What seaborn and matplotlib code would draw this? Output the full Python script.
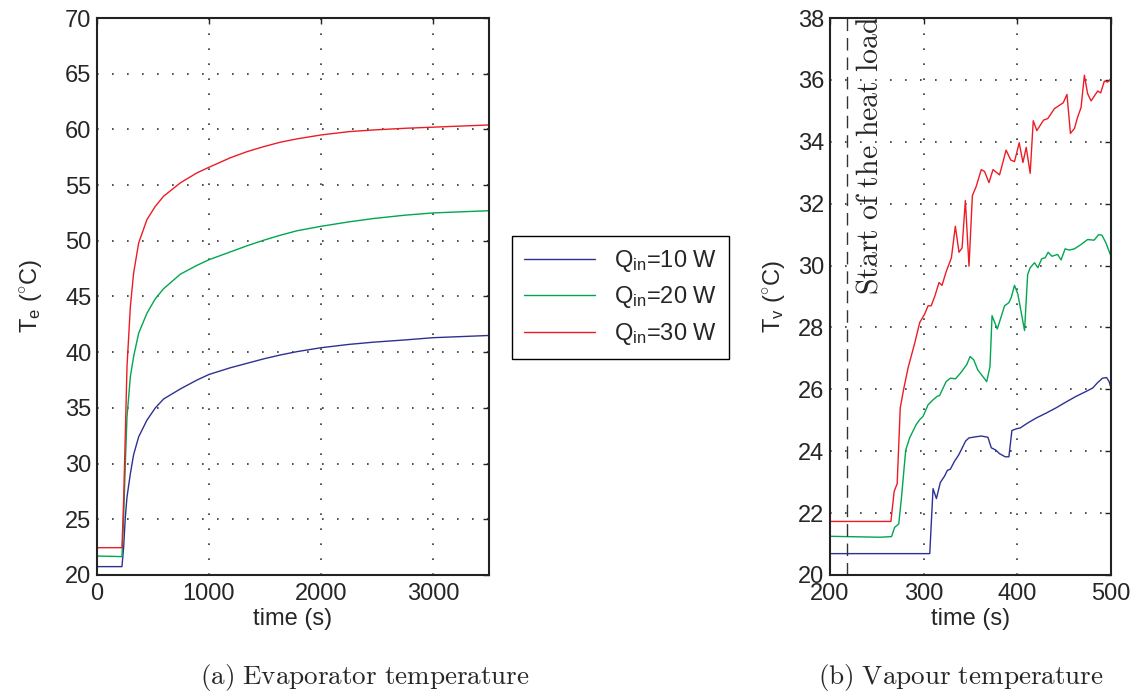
import numpy as np
import pandas as pd
import seaborn as sns
import matplotlib
matplotlib.use('Agg')
import matplotlib.pyplot as plt

# Evaporator temperature, (a)
t_e = [0, 223, 238, 253, 268, 298, 327, 372, 446, 521, 595, 744, 893, 1000, 1190, 1339,
       1488, 1637, 1786, 2000, 2250, 2470, 2750, 3000, 3250, 3500]
T_e10 = [20.75, 20.75, 22.5, 25.2, 27.0, 29.1, 30.8, 32.4, 33.9, 35.0, 35.8, 36.7, 37.5, 38.0,
         38.6, 39.0, 39.4, 39.75, 40.05, 40.4, 40.7, 40.9, 41.1, 41.3, 41.4, 41.5]
T_e20 = [21.7, 21.65, 25.2, 30.0, 34.2, 37.8, 39.6, 41.7, 43.5, 44.8, 45.7, 47.0, 47.8, 48.3,
         49.0, 49.55, 50.05, 50.5, 50.9, 51.3, 51.7, 52.0, 52.3, 52.5, 52.6, 52.7]
T_e30 = [22.45, 22.45, 26.7, 32.7, 38.7, 44.1, 47.1, 49.8, 51.9, 53.1, 54.0, 55.2, 56.1, 56.6,
         57.45, 58.0, 58.45, 58.85, 59.15, 59.5, 59.8, 59.95, 60.1, 60.2, 60.3, 60.4]

# Vapour temperature, (b)
t_v10 = [200, 253, 306.5, 310, 313.6, 317.8, 322.4, 325.3, 328.5, 333, 337.4, 341.2, 344.8, 348.4,
         354.4, 361.5, 368.6, 372.2, 376.8, 381, 387, 391, 394.2, 399.6, 403, 411, 420, 430.7,
         441.3, 452, 462.6, 473.3, 480.4, 485.8, 491, 495.3, 498, 500]
T_v10 = [20.69, 20.69, 20.69, 22.79, 22.47, 22.99, 23.2, 23.38, 23.42, 23.68, 23.88, 24.11, 24.33,
         24.43, 24.46, 24.49, 24.45, 24.11, 24.04, 23.92, 23.82, 23.82, 24.67, 24.73, 24.75, 24.91,
         25.07, 25.23, 25.4, 25.59, 25.77, 25.93, 26.04, 26.22, 26.36, 26.38, 26.25, 26.04]
t_v20 = [200, 253, 265.7, 269, 273.4, 276.3, 280.8, 285, 292, 295.8, 299.4, 304.7, 310, 314.3, 317,
         324, 328.5, 334, 340, 346, 349.6, 353.5, 357.7, 367.3, 370.8, 373, 378.6, 386.4, 391,
         393.5, 397, 400.6, 407.7, 411, 413.7, 418.3, 422, 426, 429.7, 432.9, 437, 443, 446.7,
         451, 455.5, 461, 468, 475, 482, 486.8, 490.4, 494.6, 500]
T_v20 = [21.25, 21.22, 21.24, 21.54, 21.65, 22.5, 24.03, 24.43, 24.86, 25.02, 25.13, 25.5, 25.66,
         25.77, 25.8, 26.25, 26.36, 26.34, 26.55, 26.8, 27.06, 26.95, 26.63, 26.25, 26.73, 28.38,
         27.95, 28.7, 28.8, 28.97, 29.36, 29.07, 27.9, 29.7, 29.93, 30.09, 29.93, 30.22, 30.25,
         30.43, 30.3, 30.36, 30.18, 30.54, 30.5, 30.54, 30.68, 30.84, 30.82, 31.0, 30.98, 30.73, 30.3]
t_v30 = [200, 265, 268.5, 271.7, 275, 278.6, 283.4, 290.5, 295.8, 301, 304.7, 308, 311.8, 316.4,
         319.6, 324, 329.6, 333.8, 337.7, 341, 344.5, 348.4, 352, 356, 361.5, 365, 369.7, 374, 381,
         388, 393, 397, 402, 406, 409.5, 413.7, 417, 420.8, 428, 432.5, 439.6, 449, 453, 456.7,
         461, 464.4, 468, 471.6, 475, 478.7, 485.8, 489, 492.9, 496.4, 500]
T_v30 = [21.73, 21.73, 22.7, 22.95, 25.4, 26.0, 26.7, 27.5, 28.16, 28.43, 28.7, 28.7, 29.0, 29.45,
         29.36, 29.8, 30.25, 31.27, 30.43, 30.57, 32.1, 29.98, 32.26, 32.55, 33.1, 33.04, 32.68,
         33.1, 32.93, 33.73, 33.41, 33.36, 33.97, 33.33, 33.82, 32.98, 34.68, 34.36, 34.7, 34.75,
         35.07, 35.26, 35.53, 34.27, 34.43, 34.8, 35.1, 36.15, 35.56, 35.32, 35.64, 35.58, 35.96,
         35.93, 36.04]

loads = ['10 W', '20 W', '30 W']
legend_labels = [r'Q$_{\rm in}$=10 W', r'Q$_{\rm in}$=20 W', r'Q$_{\rm in}$=30 W']
colors = ['#2e3192', '#00a650', '#ed1c24']
heat_start = 218

sns.set_style('white')
plt.rcParams['font.family'] = ['Liberation Sans', 'DejaVu Sans']
plt.rcParams['mathtext.fontset'] = 'custom'
plt.rcParams['mathtext.rm'] = 'Liberation Sans'
plt.rcParams['mathtext.it'] = 'Liberation Sans:italic'
plt.rcParams['mathtext.bf'] = 'Liberation Sans:bold'
plt.rcParams['font.size'] = 17

# long-form frames
df_e = pd.concat([pd.DataFrame({'time': t_e, 'T': v, 'Q': q})
                  for v, q in zip([T_e10, T_e20, T_e30], loads)], ignore_index=True)
df_v = pd.concat([pd.DataFrame({'time': t, 'T': v, 'Q': q})
                  for t, v, q in zip([t_v10, t_v20, t_v30], [T_v10, T_v20, T_v30], loads)],
                 ignore_index=True)

fig = plt.figure(figsize=(11.45, 6.95), dpi=100)
ax1 = fig.add_axes([0.0847, 0.1727, 0.3424, 0.8014])
ax2 = fig.add_axes([0.7249, 0.1727, 0.2454, 0.8014])

palette = dict(zip(loads, colors))
sns.lineplot(data=df_e, x='time', y='T', hue='Q', palette=palette, estimator=None,
             linewidth=1.0, legend=False, ax=ax1)
sns.lineplot(data=df_v, x='time', y='T', hue='Q', palette=palette, estimator=None,
             linewidth=1.0, legend=False, ax=ax2)

ax2.axvline(heat_start, color='#333333', linewidth=1.0, dashes=(9, 5))
ax2.text(242.5, 33.57, r'$\mathrm{Start\ of\ the\ heat\ load}$', rotation=90, ha='center',
         va='center', fontsize=21.5, math_fontfamily='cm')

ax1.set_xlim(0, 3500)
ax1.set_ylim(20, 70)
ax1.set_xticks([0, 1000, 2000, 3000])
ax1.set_yticks(np.arange(20, 71, 5))
ax2.set_xlim(200, 500)
ax2.set_ylim(20, 38)
ax2.set_xticks([200, 300, 400, 500])
ax2.set_yticks(np.arange(20, 39, 2))

ax1.set_ylabel(r'T$_{\rm e}$ ($^{\circ}$C)', labelpad=15)
ax2.set_ylabel(r'T$_{\rm v}$ ($^{\circ}$C)', labelpad=8)
for ax in (ax1, ax2):
    ax.set_xlabel('time (s)', labelpad=2)
    ax.grid(True, linestyle=(0, (1, 8)), color='#333333', linewidth=1.2)
    ax.tick_params(direction='in', length=4, width=1, top=True, right=True,
                   labelsize=17, pad=4, color='#222222')
    ax.tick_params(axis='x', pad=6)
    for s in ax.spines.values():
        s.set_linewidth(1.5)
        s.set_color('#222222')

handles = ax1.get_lines()[:3]
fig.legend(handles, legend_labels, loc='center', bbox_to_anchor=(0.542, 0.572),
           fancybox=False, edgecolor='black', framealpha=1, handlelength=3.0,
           fontsize=17, borderpad=0.5, labelspacing=0.45)

fig.text(0.319, 0.0245, r'$\mathrm{(a)\ Evaporator\ temperature}$', ha='center', va='center',
         fontsize=19.5, math_fontfamily='cm')
fig.text(0.839, 0.0245, r'$\mathrm{(b)\ Vapour\ temperature}$', ha='center', va='center',
         fontsize=19.5, math_fontfamily='cm')

fig.savefig('out.png', dpi=100)
